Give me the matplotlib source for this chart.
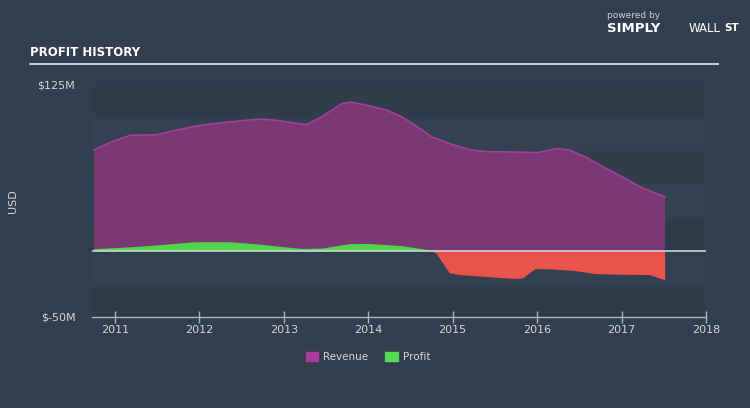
import matplotlib
matplotlib.use("Agg")
import matplotlib.pyplot as plt
from matplotlib.patches import Patch
from matplotlib import font_manager

# revenue history, USD millions (decimal years)
rev_years = [2010.75, 2010.96, 2011.18, 2011.50, 2011.73, 2012.00, 2012.27, 2012.50,
             2012.72, 2012.92, 2013.10, 2013.27, 2013.45, 2013.69, 2013.80, 2014.00,
             2014.22, 2014.40, 2014.57, 2014.75, 2015.00, 2015.22, 2015.40, 2015.70,
             2016.00, 2016.11, 2016.23, 2016.38, 2016.58, 2016.76, 2017.00, 2017.24,
             2017.51]
revenue = [76, 82, 87, 87.5, 91, 94.5, 96.5, 98,
           99.3, 98.3, 96.5, 95, 101, 111, 112, 109.5,
           106, 101, 94, 86, 80, 76, 74.7, 74.5,
           74, 75.4, 77, 76, 70.5, 64, 56, 47.5,
           40.7]

# net profit history, USD millions
profit_years = [2010.75, 2011.24, 2011.52, 2011.95, 2012.35, 2012.66, 2013.21, 2013.45,
                2013.77, 2014.00, 2014.40, 2014.72, 2014.80, 2014.96, 2015.08, 2015.44,
                2015.75, 2015.83, 2015.97, 2016.14, 2016.45, 2016.69, 2017.00, 2017.33,
                2017.51]
profit = [1.5, 3.2, 4.5, 6.8, 6.8, 5.3, 1.7, 2.0,
          5.3, 5.5, 3.8, 0.75, -1.5, -16.6, -18, -19.6,
          -21, -20.5, -13.6, -13.6, -15, -17.3, -17.8, -18,
          -21.9]

year_ticks = [2011, 2012, 2013, 2014, 2015, 2016, 2017, 2018]

BG = "#323e4d"
TXT = "#d3d9df"
REV_FILL = "#7b3874"
REV_EDGE = "#a3409a"
GREEN = "#4fd64b"
RED = "#e9534b"

# pick a narrow font for the title if one is around
names = {f.name for f in font_manager.fontManager.ttflist}
title_family = "DejaVu Sans"
for cand in ["Liberation Sans Narrow", "DejaVu Sans Condensed"]:
    if cand in names:
        title_family = cand
        break

fig = plt.figure(figsize=(7.5, 4.08), dpi=100, facecolor=BG)
ax = fig.add_axes([92 / 750, 1 - 317 / 408, 614 / 750, 232 / 408])
ax.set_facecolor(BG)

# very faint horizontal bands
for i, lo in enumerate(range(-50, 125, 25)):
    ax.axhspan(lo, lo + 25, color="#33404f" if i % 2 else "#303c4a", lw=0, zorder=0)

ax.fill_between(rev_years, 0, revenue, color=REV_FILL, lw=0, zorder=2)
ax.plot(rev_years, revenue, color=REV_EDGE, lw=1.2, zorder=3)

ax.fill_between(profit_years, 0, profit, where=[p >= 0 for p in profit],
                interpolate=True, color=GREEN, lw=0, zorder=4)
ax.fill_between(profit_years, 0, profit, where=[p <= 0 for p in profit],
                interpolate=True, color=RED, lw=0, zorder=4)

ax.axhline(0, color="#c9d1d9", lw=1.2, zorder=5)

ax.set_xlim(2010.73, 2018.0)
ax.set_ylim(-50, 125)
ax.set_xticks(year_ticks)
ax.set_xticklabels([str(y) for y in year_ticks])
ax.set_yticks([125, -50])
ax.set_yticklabels(["$125M", "$-50M"])

for s in ["top", "right", "left"]:
    ax.spines[s].set_visible(False)
ax.spines["bottom"].set_color("#aab4be")
ax.spines["bottom"].set_linewidth(1.0)
ax.tick_params(axis="x", colors="#aab4be", direction="inout", length=8, width=1,
               labelcolor=TXT, labelsize=8, pad=2)
ax.tick_params(axis="y", length=0, labelcolor=TXT, labelsize=8, pad=12)
ax.set_ylabel("USD", color=TXT, fontsize=8, labelpad=14)

# title and underline
fig.text(30 / 750, 1 - 52 / 408, "PROFIT HISTORY", color="white",
         fontsize=10 if title_family != "DejaVu Sans" else 8.5,
         fontweight="bold", family=title_family, va="center", ha="left")
fig.add_artist(plt.Line2D([30 / 750, 718 / 750], [1 - 64 / 408, 1 - 64 / 408],
                          color="#c5d0d8", lw=1.4))

# logo text
fig.text(607 / 750, 1 - 15 / 408, "powered by", color="#c8d0d8", fontsize=6.5,
         ha="left", va="center")
fig.text(607 / 750, 1 - 28 / 408, "SIMPLY", color="white", fontsize=9.5,
         fontweight="bold", ha="left", va="center")
fig.text(689 / 750, 1 - 28 / 408, "WALL", color="white", fontsize=8.5,
         ha="left", va="center")
fig.text(724 / 750, 1 - 28 / 408, "ST", color="white", fontsize=7.5,
         fontweight="bold", ha="left", va="center")

handles = [Patch(color="#a93c9c", label="Revenue"), Patch(color="#57dc55", label="Profit")]
fig.legend(handles=handles, loc="center", bbox_to_anchor=(368 / 750, 1 - 357 / 408),
           ncol=2, frameon=False, fontsize=7.5, labelcolor=TXT,
           handlelength=1.2, handleheight=1.0, columnspacing=1.6, handletextpad=0.5)

fig.savefig("out.png", dpi=100, facecolor=BG)
